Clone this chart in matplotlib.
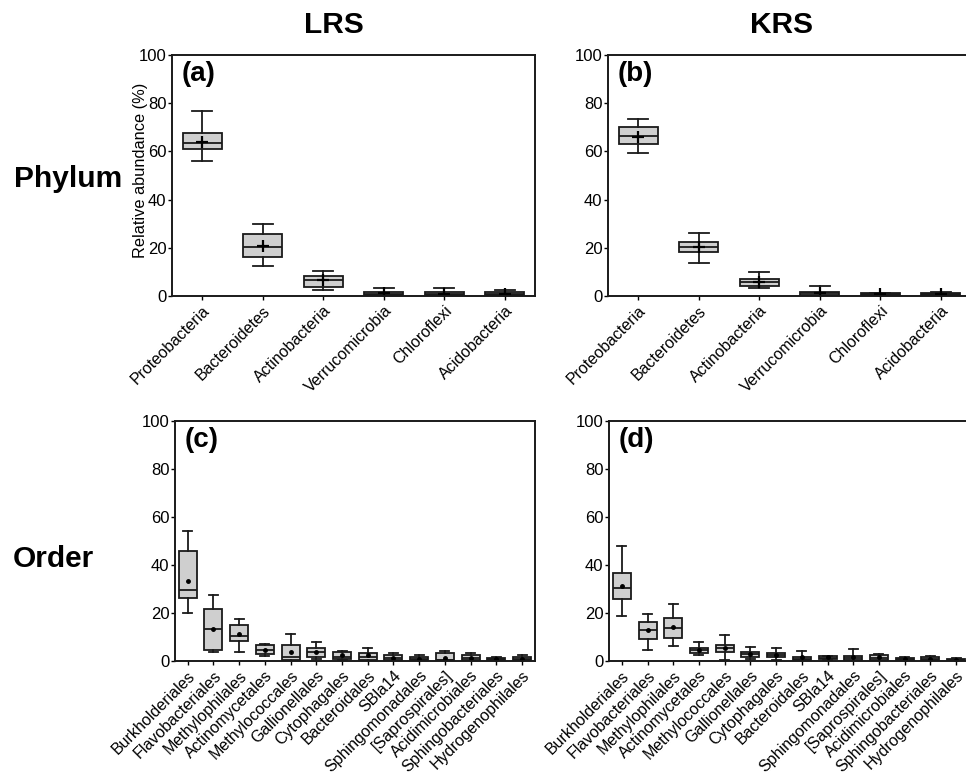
import matplotlib
matplotlib.use("Agg")
import matplotlib.pyplot as plt

plt.rcParams['font.family'] = ['Liberation Sans', 'DejaVu Sans']

# ---- data ----
phylum = ['Proteobacteria', 'Bacteroidetes', 'Actinobacteria',
          'Verrucomicrobia', 'Chloroflexi', 'Acidobacteria']
order = ['Burkholderiales', 'Flavobacteriales', 'Methylophilales',
         'Actinomycetales', 'Methylococcales', 'Gallionellales',
         'Cytophagales', 'Bacteroidales', 'SBla14', 'Sphingomonadales',
         '[Saprospirales]', 'Acidimicrobiales', 'Sphingobacteriales',
         'Hydrogenophilales']

# columns: whisker low, Q1, median, Q3, whisker high, mean
lrs_phylum = [
    [55.9, 60.9, 63.6, 67.5, 76.8, 64.0],
    [12.4, 16.0, 20.5, 25.6, 29.9, 20.7],
    [2.5, 3.7, 6.6, 8.4, 10.4, 6.5],
    [0.0, 0.3, 0.8, 1.8, 3.5, 1.2],
    [0.0, 0.3, 0.8, 1.5, 3.2, 1.0],
    [0.2, 0.4, 0.9, 1.5, 2.4, 1.0],
]
krs_phylum = [
    [59.2, 63.1, 66.5, 70.0, 73.4, 66.0],
    [13.8, 18.4, 20.2, 22.3, 26.0, 20.3],
    [3.2, 4.3, 5.9, 7.1, 10.1, 6.0],
    [0.1, 0.4, 1.1, 1.8, 4.3, 1.3],
    [0.2, 0.3, 0.7, 1.1, 1.2, 0.7],
    [0.1, 0.3, 0.7, 1.1, 1.5, 0.8],
]
lrs_order = [
    [20.0, 26.4, 29.8, 45.8, 54.1, 33.4],
    [3.9, 4.7, 13.5, 21.8, 27.5, 13.5],
    [3.9, 8.5, 10.4, 14.9, 17.7, 11.4],
    [2.1, 3.1, 4.7, 6.5, 7.2, 4.6],
    [0.0, 0.6, 1.7, 6.5, 11.1, 3.8],
    [1.0, 1.9, 3.6, 5.4, 7.9, 3.8],
    [0.3, 0.8, 1.9, 3.8, 4.4, 2.5],
    [0.0, 0.6, 1.7, 3.5, 5.4, 2.4],
    [0.1, 0.6, 1.4, 2.4, 3.2, 1.3],
    [0.1, 0.4, 0.8, 1.5, 2.6, 1.0],
    [0.1, 0.4, 0.6, 3.5, 4.0, 1.1],
    [0.0, 0.4, 1.3, 2.4, 3.2, 1.3],
    [0.2, 0.4, 0.8, 1.4, 1.7, 0.9],
    [0.1, 0.4, 1.0, 1.7, 2.4, 1.0],
]
krs_order = [
    [18.6, 25.9, 30.5, 36.7, 48.0, 31.2],
    [4.7, 9.2, 13.1, 16.4, 19.7, 12.9],
    [6.4, 9.5, 13.6, 17.9, 23.9, 14.2],
    [2.6, 3.3, 4.5, 5.6, 7.8, 4.5],
    [0.3, 3.6, 5.4, 6.8, 10.8, 5.4],
    [0.8, 1.9, 2.9, 3.8, 5.7, 3.0],
    [0.6, 1.5, 2.5, 3.5, 5.3, 2.7],
    [0.0, 0.3, 1.0, 1.8, 4.3, 1.5],
    [0.4, 0.7, 1.4, 2.1, 2.2, 1.6],
    [0.1, 0.6, 1.3, 2.2, 4.9, 1.6],
    [0.1, 0.6, 1.3, 2.4, 2.9, 1.5],
    [0.0, 0.3, 0.7, 1.3, 1.5, 0.8],
    [0.0, 0.3, 1.0, 1.5, 2.1, 1.0],
    [0.1, 0.3, 0.6, 1.0, 1.3, 0.6],
]


def to_stats(rows):
    return [dict(whislo=r[0], q1=r[1], med=r[2], q3=r[3], whishi=r[4],
                 mean=r[5], fliers=[]) for r in rows]


def draw(ax, rows, labels, tag, width, mean_style):
    pos = list(range(1, len(rows) + 1))
    ax.bxp(to_stats(rows), positions=pos, widths=width, showmeans=True,
           patch_artist=True, showfliers=False,
           boxprops=dict(facecolor='#cfcfcf', edgecolor='#1a1a1a', linewidth=1.3),
           medianprops=dict(color='#1a1a1a', linewidth=1.3),
           whiskerprops=dict(color='#1a1a1a', linewidth=1.3),
           capprops=dict(color='#1a1a1a', linewidth=1.3),
           meanprops=mean_style)
    ax.set_xlim(0.5, len(rows) + 0.5)
    ax.set_ylim(0, 100)
    ax.set_yticks([0, 20, 40, 60, 80, 100])
    ax.set_xticks(pos)
    ax.set_xticklabels(labels, rotation=45, ha='right', rotation_mode='anchor',
                       fontsize=11.5)
    ax.tick_params(axis='y', labelsize=12, length=3, width=1, pad=1)
    ax.tick_params(axis='x', length=3, width=1, pad=2)
    for s in ax.spines.values():
        s.set_linewidth(1.4)
        s.set_color('#1a1a1a')
    ax.text(0.027, 0.975, tag, transform=ax.transAxes, fontsize=20,
            fontweight='bold', va='top', ha='left')


fig = plt.figure(figsize=(9.66, 7.75), dpi=100)

plus = dict(marker='+', markeredgecolor='black', markersize=8, markeredgewidth=1.6)
dot = dict(marker='o', markerfacecolor='black', markeredgecolor='black', markersize=2.5)

ax_a = fig.add_axes([0.178, 0.618, 0.3758, 0.311])
ax_b = fig.add_axes([0.6294, 0.618, 0.3758, 0.311])
ax_c = fig.add_axes([0.181, 0.147, 0.3727, 0.3097])
ax_d = fig.add_axes([0.6304, 0.147, 0.3727, 0.3097])

draw(ax_a, lrs_phylum, phylum, '(a)', 0.65, plus)
draw(ax_b, krs_phylum, phylum, '(b)', 0.65, plus)
draw(ax_c, lrs_order, order, '(c)', 0.7, dot)
draw(ax_d, krs_order, order, '(d)', 0.7, dot)

ax_a.set_ylabel('Relative abundance (%)', fontsize=11.8)
ax_a.yaxis.set_label_coords(-0.067, 0.52)

fig.text(0.346, 0.9574, 'LRS', fontsize=21.5, fontweight='bold', ha='center', va='baseline')
fig.text(0.809, 0.9574, 'KRS', fontsize=21.5, fontweight='bold', ha='center', va='baseline')
fig.text(0.0704, 0.7587, 'Phylum', fontsize=21.5, fontweight='bold', ha='center', va='baseline')
fig.text(0.0549, 0.2684, 'Order', fontsize=21.5, fontweight='bold', ha='center', va='baseline')

fig.savefig('out.png', dpi=100)
